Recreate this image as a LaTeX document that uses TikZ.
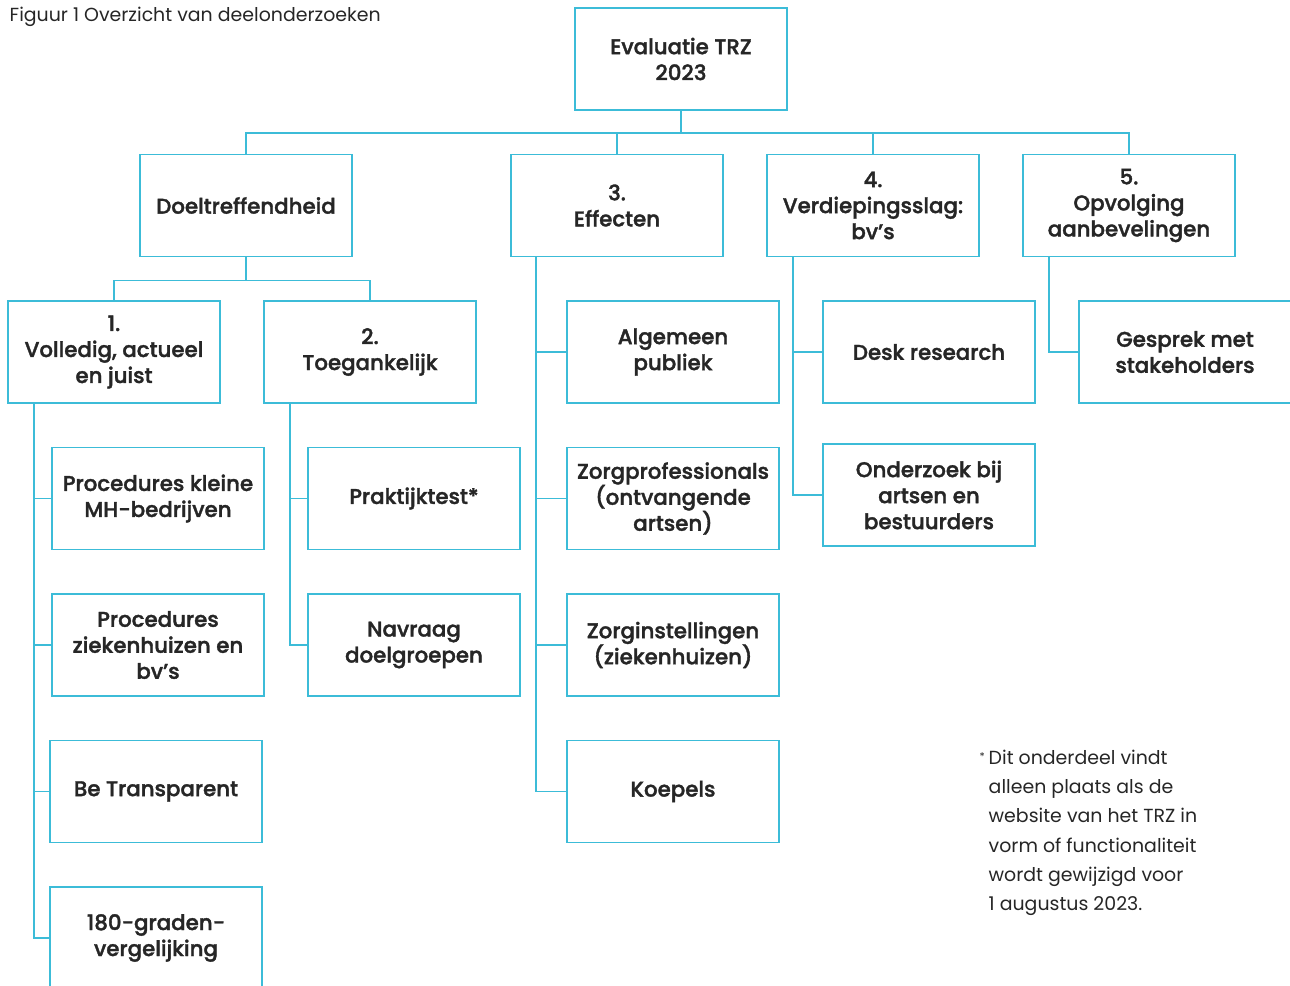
\documentclass[tikz,border=0pt]{standalone}
\usepackage{fontspec}
\setmainfont{Poppins}
\newfontfamily\boxfont{Poppins Medium}[FakeBold=1.6]
\usepackage{tikz}
\usetikzlibrary{calc}

\definecolor{trzblue}{HTML}{3CBCD8}
\definecolor{trztext}{HTML}{262626}

\tikzset{
  box/.style={draw=trzblue,line width=1.3pt,minimum width=159pt,minimum height=76.5pt,
    inner sep=2pt,align=center,text=trztext,font=\boxfont\fontsize{16}{19.5}\selectfont},
  link/.style={draw=trzblue,line width=1.3pt}
}

\begin{document}
\begin{tikzpicture}[x=0.75pt,y=-0.75pt]
 \useasboundingbox (0,0) rectangle (1290,986);
 \clip (0,0) rectangle (1290,986);
 \node[anchor=west,text=trztext,font=\fontsize{14.2}{15}\selectfont] (fig) at (5,17) {Figuur 1 Overzicht van deelonderzoeken};
 % top level
 \node[box] (eval) at (681,59) {Evaluatie TRZ\\2023};
 \node[box] (doel) at (246,205.5) {Doeltreffendheid};
 \node[box] (eff) at (617,205.5) {3.\\Effecten};
 \node[box] (verd) at (873,205.5) {4.\\Verdiepingsslag:\\bv’s};
 \node[box] (opv) at (1129,205.5) {5.\\Opvolging\\aanbevelingen};
 % second level
 \node[box] (volledig) at (114,352) {1.\\Volledig, actueel\\en juist};
 \node[box] (toeg) at (370,352) {2.\\Toegankelijk};
 \node[box] (alg) at (673,352) {Algemeen\\publiek};
 \node[box] (desk) at (929,352) {Desk research};
 \node[box] (gesprek) at (1185,352) {Gesprek met\\stakeholders};
 % leaves
 \node[box] (kleine) at (158,498.5) {Procedures kleine\\MH-bedrijven};
 \node[box] (zkh) at (158,645) {Procedures\\ziekenhuizen en\\bv’s};
 \node[box] (transp) at (156,791.5) {Be Transparent};
 \node[box] (graden) at (156,938) {180-graden-\\vergelijking};
 \node[box] (prakt) at (414,498.5) {Praktijktest*};
 \node[box] (navraag) at (414,645) {Navraag\\doelgroepen};
 \node[box] (zorgprof) at (673,498.5) {Zorgprofessionals\\(ontvangende\\artsen)};
 \node[box] (zorginst) at (673,645) {Zorginstellingen\\(ziekenhuizen)};
 \node[box] (koepels) at (673,791.5) {Koepels};
 \node[box] (onderzoek) at (929,495) {Onderzoek bij\\artsen en\\bestuurders};

 % connectors
 \foreach \n in {doel,eff,verd,opv}
   \draw[link] (eval.south) -- ++(0,22) -| (\n.north);
 \foreach \n in {volledig,toeg}
   \draw[link] (doel.south) -- ++(0,23) -| (\n.north);
 \foreach \n in {alg,zorgprof,zorginst,koepels}
   \draw[link] ($(eff.south west)+(26,0)$) |- (\n.west);
 \foreach \n in {desk,onderzoek}
   \draw[link] ($(verd.south west)+(27,0)$) |- (\n.west);
 \draw[link] ($(opv.south west)+(27,0)$) |- (gesprek.west);
 \foreach \n in {kleine,zkh,transp,graden}
   \draw[link] ($(volledig.south west)+(27,0)$) |- (\n.west);
 \foreach \n in {prakt,navraag}
   \draw[link] ($(toeg.south west)+(27,0)$) |- (\n.west);

 % footnote
 \node[anchor=north west,align=left,text=trztext,font=\fontsize{14.2}{22}\selectfont] (note) at (984,745)
   {\llap{\raisebox{2.5pt}{\footnotesize*}\hspace{3pt}}Dit onderdeel vindt\\alleen plaats als de\\website van het TRZ in\\vorm of functionaliteit\\wordt gewijzigd voor\\1 augustus 2023.};
\end{tikzpicture}
\end{document}
